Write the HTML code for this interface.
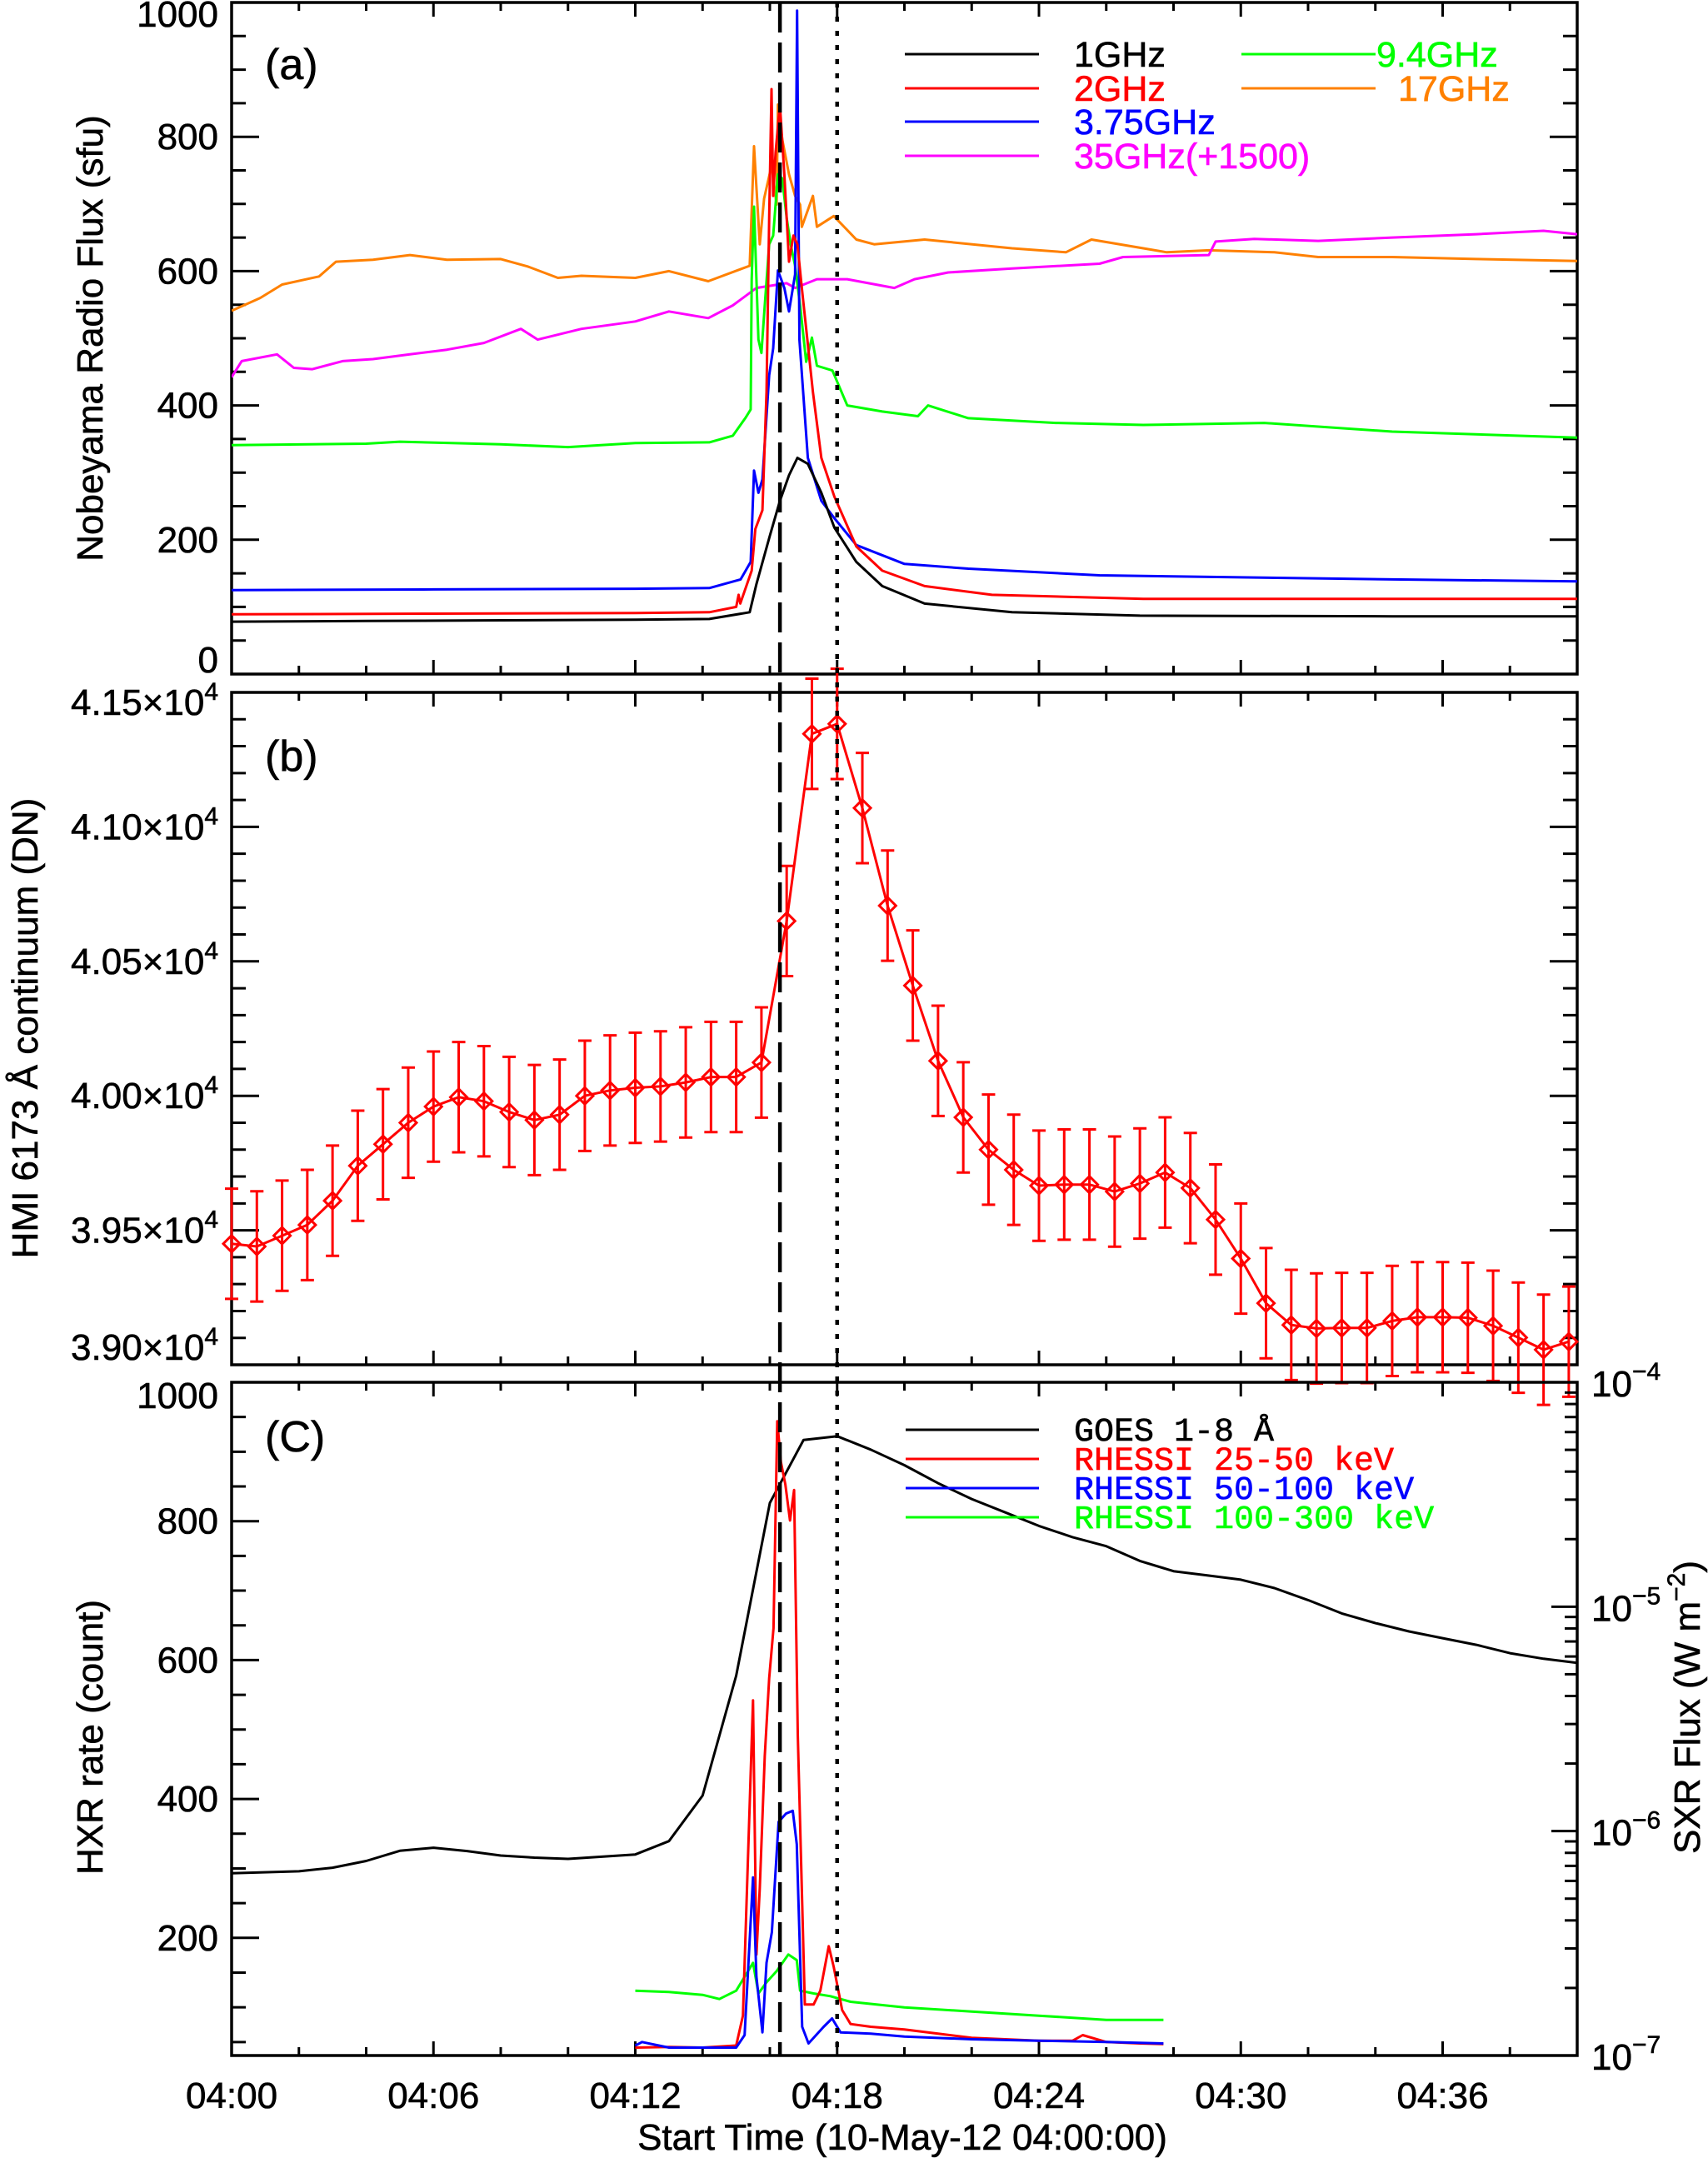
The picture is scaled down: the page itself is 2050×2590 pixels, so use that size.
<!DOCTYPE html>
<html><head><meta charset="utf-8"><style>
html,body{margin:0;padding:0;background:#fff;}
svg{display:block;font-family:"Liberation Sans",sans-serif;}
</style></head><body>
<svg id="chart" xmlns="http://www.w3.org/2000/svg" width="2050" height="2590" viewBox="0 0 2050 2590">
<rect width="2050" height="2590" fill="#fff"/>
</svg>
<script>
// ---- Panel (a): Nobeyama radio flux (sfu) ----
const black_t=[0,4,8,12,14.2,15.4,15.6,16.0,16.3,16.57,16.82,17.13,17.53,17.92,18.57,19.34,20.6,23.2,27,34.5,40];
const black_v=[78,79,80,81,82,92,134,206,258,296,322,313,270,218,167,131,105,92,87,86,86];
const red_t=[0,6,12,14.2,15.0,15.07,15.12,15.46,15.57,15.78,15.9,15.98,16.05,16.1,16.17,16.3,16.43,16.57,16.7,16.82,16.95,17.28,17.53,17.92,18.57,19.34,20.6,22.6,27.1,40];
const red_v=[89,90,91,92,100,118,105,154,216,244,420,679,871,712,777,848,744,614,653,640,575,420,322,264,190,154,131,118,112,112];
const blue_t=[0,6,12,14.2,15.13,15.43,15.53,15.66,15.78,15.98,16.1,16.24,16.43,16.57,16.75,16.81,16.88,17.13,17.53,17.92,18.57,20,21.9,25.8,34.5,40];
const blue_v=[125,126,127,128,141,167,303,270,290,445,485,601,575,540,595,988,498,322,258,232,192,164,157,147,141,138];
const green_t=[0,4,5,8,10,12,14.2,14.9,15.27,15.43,15.46,15.53,15.66,15.75,15.85,15.98,16.1,16.24,16.37,16.5,16.62,16.75,16.9,17.08,17.25,17.4,17.86,18.3,19.34,20.4,20.7,21.9,24.5,27.1,30.7,34.5,40];
const green_v=[341,343,346,342,338,344,345,355,381,394,588,696,498,478,549,640,653,744,738,679,640,608,549,465,501,459,452,400,391,384,400,381,374,371,374,361,352];
const orange_t=[0,0.85,1.5,2.6,3.1,4.2,5.3,6.4,8.0,8.8,9.7,10.4,12,13,14.17,15.4,15.53,15.7,15.83,16.05,16.2,16.24,16.37,16.57,16.75,16.9,16.95,17.28,17.4,17.9,18.57,19.1,20.6,23.2,24.8,25.56,27.1,27.8,29.05,31,32.3,34.5,37,40];
const orange_v=[541,560,580,592,614,617,624,617,618,607,590,593,590,600,585,608,786,640,708,757,699,848,796,744,712,699,666,712,666,682,647,640,647,634,628,647,634,628,631,628,621,621,618,615];
const magenta_t=[0,0.3,1.35,1.85,2.4,3.3,4.2,5.3,6.4,7.5,8.6,9.1,10.4,12,13,14.17,14.9,15.6,16.5,16.75,17.4,18.3,19.7,20.3,21.3,23.2,25.8,26.5,29.05,29.25,30.4,32.3,34.5,37,39,40];
const magenta_v=[442,466,476,456,454,466,469,476,483,493,514,498,514,525,540,530,549,575,582,575,588,588,575,588,598,604,611,621,624,644,648,645,650,655,660,655];
// ---- Panel (b): HMI continuum (x1e4 DN), 45 s cadence ----
const hmi_v=[3.945,3.944,3.948,3.952,3.961,3.974,3.982,3.990,3.996,3.9995,3.998,3.994,3.991,3.993,4.000,4.002,4.003,4.0035,4.005,4.007,4.007,4.0124,4.065,4.1346,4.1383,4.107,4.0707,4.041,4.013,3.992,3.980,3.9725,3.9666,3.967,3.967,3.9644,3.9674,3.9715,3.9657,3.954,3.9395,3.9229,3.9148,3.9135,3.9137,3.9137,3.9163,3.9177,3.9177,3.9175,3.9145,3.9101,3.9056,3.9086];
const hmi_err=[0.0205,0.0205,0.0205,0.0205,0.0205,0.0205,0.0205,0.0205,0.0205,0.0205,0.0205,0.0205,0.0205,0.0205,0.0205,0.0205,0.0205,0.0205,0.0205,0.0205,0.0205,0.0205,0.0205,0.0205,0.0205,0.0205,0.0205,0.0205,0.0205,0.0205,0.0205,0.0205,0.0205,0.0205,0.0205,0.0205,0.0205,0.0205,0.0205,0.0205,0.0205,0.0205,0.0205,0.0205,0.0205,0.0205,0.0205,0.0205,0.0205,0.0205,0.0205,0.0205,0.0205,0.0205];
const hmi_dt=0.75;
// ---- Panel (c): GOES + RHESSI ----
const goes_t=[0,2,3,4,5,6,7,8,9,10,11,12,13,14,15,16,17,18,19,20,21,22,23,24,25,26,27,28,29,30,31,32,33,34,35,36,37,38,39,40];
const goes_v=[6.49e-7,6.62e-7,6.87e-7,7.36e-7,8.17e-7,8.43e-7,8.15e-7,7.78e-7,7.62e-7,7.52e-7,7.69e-7,7.87e-7,9.02e-7,1.44e-6,4.93e-6,2.90e-5,5.53e-5,5.75e-5,5.01e-5,4.27e-5,3.55e-5,3.02e-5,2.63e-5,2.29e-5,2.04e-5,1.86e-5,1.60e-5,1.44e-5,1.38e-5,1.32e-5,1.21e-5,1.07e-5,9.33e-6,8.45e-6,7.76e-6,7.24e-6,6.76e-6,6.21e-6,5.86e-6,5.62e-6];
const r25_t=[12,13,14,15.0,15.2,15.5,15.6,15.7,15.85,15.98,16.11,16.22,16.33,16.46,16.6,16.72,16.83,17.04,17.3,17.5,17.75,17.9,18.15,18.4,19,20,21,22,23,24,25,25.3,26,27,27.7];
const r25_v=[42,43,42,45,88,542,176,271,462,574,646,944,885,853,801,845,494,104,104,124,188,158,96,76,72,68,62,56,54,52,52,60,50,48,47];
const r50_t=[12,12.2,13,14,15,15.25,15.5,15.6,15.78,15.9,16.06,16.26,16.48,16.68,16.8,16.96,17.15,17.6,17.85,18.1,19,20,22,24,26,27.7];
const r50_v=[45,50,42,42,42,60,287,144,64,164,208,367,379,383,335,72,48,72,84,64,62,58,54,52,50,48];
const r100_t=[12,13,14,14.5,15,15.5,15.66,15.9,16.2,16.55,16.8,16.9,17.3,17.8,18.4,20,22,24,26,27.7];
const r100_v=[124,122,118,112,124,164,120,136,152,176,168,124,120,116,108,100,94,88,82,82];
const xTickLabels=["04:00","04:06","04:12","04:18","04:24","04:30","04:36"];
const aTicks=[0,200,400,600,800,1000];
const bTicks=["3.90","3.95","4.00","4.05","4.10","4.15"];
const cTicks=[200,400,600,800,1000];
const cRightExp=[-7,-6,-5,-4];
const dashedT=16.3, dottedT=18.0;

const NS="http://www.w3.org/2000/svg";
const svg=document.getElementById('chart');
const X0=278,X1=1893;
const A={t:3,b:809,min:0,max:1000};
const B={t:831,b:1638,min:3.90,max:4.15};
const C={t:1659,b:2467,min:30.6,max:1000};
function xS(t){return X0+(t/40)*(X1-X0);}
function yS(P,v){return P.b-(v-P.min)/(P.max-P.min)*(P.b-P.t);}
function yLog(f){return C.b-(Math.log10(f)+7)/3*(C.b-C.t);}
function el(tag,attrs,parent){const e=document.createElementNS(NS,tag);for(const k in attrs)e.setAttribute(k,attrs[k]);(parent||svg).appendChild(e);return e;}

const defs=el('defs',{});
[['clipA',A],['clipB',B],['clipC',C]].forEach(([id,P])=>{const cp=el('clipPath',{id:id},defs);el('rect',{x:X0,y:P.t,width:X1-X0,height:P.b-P.t},cp);});

function frame(P,name){
  const r=el('rect',{x:X0,y:P.t,width:X1-X0,height:P.b-P.t,fill:'none',stroke:'#000','stroke-width':3.5});
  
  
  for(let m=2;m<40;m+=2){
    const x=xS(m),L=(m%6===0)?17:10;
    const tk=el('path',{d:`M${x},${P.b}V${P.b-L}M${x},${P.t}V${P.t+L}`,stroke:'#000','stroke-width':3});
    
    
  }
}
function lineSeries(ts,vs,yf,color,clip,name,w){
  let d='';ts.forEach((t,i)=>{d+=(i?'L':'M')+xS(t).toFixed(1)+','+yf(vs[i]).toFixed(1);});
  const p=el('path',{d:d,fill:'none',stroke:color,'stroke-width':w||3,'stroke-linejoin':'round','clip-path':`url(#${clip})`});
  
  
}
function text(x,y,s,attrs,name){
  const t=el('text',Object.assign({x:x,y:y,'font-size':44,fill:'#000',stroke:(attrs&&attrs.fill)||'#000','stroke-width':0.6},attrs||{}));
  t.textContent=s;
  
  
  return t;
}

// ===== Panel A =====
frame(A,'panel-a-frame');
for(let v=50;v<1000;v+=50){
  const y=yS(A,v),L=(v%200===0)?33:17;
  const tk=el('path',{d:`M${X0},${y}H${X0+L}M${X1},${y}H${X1-L}`,stroke:'#000','stroke-width':3});
  
  
}
aTicks.forEach(v=>{let y=yS(A,v);y=Math.max(y+15,32);if(v===0)y=yS(A,v)-2;text(262,y,String(v),{'text-anchor':'end','font-size':44},'y-tick-label-a');});
lineSeries(orange_t,orange_v,v=>yS(A,v),'#ff8000','clipA','series-17ghz');
lineSeries(magenta_t,magenta_v,v=>yS(A,v),'#ff00ff','clipA','series-35ghz');
lineSeries(green_t,green_v,v=>yS(A,v),'#00ff00','clipA','series-9-4ghz');
lineSeries(blue_t,blue_v,v=>yS(A,v),'#0000ff','clipA','series-3-75ghz');
lineSeries(red_t,red_v,v=>yS(A,v),'#ff0000','clipA','series-2ghz');
lineSeries(black_t,black_v,v=>yS(A,v),'#000000','clipA','series-1ghz');
text(318,95,'(a)',{'font-size':52},'panel-a-label');
const legA=[['1GHz','#000000',1086,65,1289],['2GHz','#ff0000',1086,106,1289],['3.75GHz','#0000ff',1086,146,1289],['35GHz(+1500)','#ff00ff',1086,187,1289],['9.4GHz','#00ff00',1490,65,1652],['17GHz','#ff8000',1490,106,1678]];
legA.forEach(([s,c,lx,y,tx])=>{
  const l=el('line',{x1:lx,x2:lx+161,y1:y,y2:y,stroke:c,'stroke-width':3});
  
  
  text(tx,y+15,s,{fill:c,'font-size':43},'legend-entry-a');
});
text(0,0,'Nobeyama Radio Flux (sfu)',{transform:'translate(123,406) rotate(-90)','text-anchor':'middle','font-size':44},'y-axis-title-a');

// ===== Panel B =====
frame(B,'panel-b-frame');
for(let i=1;i<25;i++){
  const v=3.90+i*0.01,y=yS(B,v),L=(i%5===0)?33:17;
  const tk=el('path',{d:`M${X0},${y}H${X0+L}M${X1},${y}H${X1-L}`,stroke:'#000','stroke-width':3});
  
  
}
bTicks.forEach(s=>{
  let y=yS(B,parseFloat(s))+15;if(y>1632)y=1632;if(s==='4.15')y=858;
  const t=text(262,y,'',{'text-anchor':'end','font-size':44},'y-tick-label-b');
  const m=el('tspan',{},t);m.textContent=s+'\u00d710';
  const e=el('tspan',{dy:-18,'font-size':30},t);e.textContent='4';
});
text(0,0,'HMI 6173 \u00c5 continuum (DN)',{transform:'translate(45,1234) rotate(-90)','text-anchor':'middle','font-size':44},'y-axis-title-b');
text(318,925,'(b)',{'font-size':52},'panel-b-label');
{
  let d='';hmi_v.forEach((v,i)=>{d+=(i?'L':'M')+xS(i*hmi_dt).toFixed(1)+','+yS(B,v).toFixed(1);});
  const p=el('path',{d:d,fill:'none',stroke:'#ff0000','stroke-width':3,'clip-path':'url(#clipB)'});
  
  
  hmi_v.forEach((v,i)=>{
    const x=xS(i*hmi_dt),y=yS(B,v),y1=yS(B,v+hmi_err[i]),y2=yS(B,v-hmi_err[i]);
    const eb=el('path',{d:`M${x},${y1}V${y2}M${x-8},${y1}H${x+8}M${x-8},${y2}H${x+8}`,stroke:'#ff0000','stroke-width':3,fill:'none'});
    
    
    const dm=el('path',{d:`M${x-10},${y}L${x},${y-10}L${x+10},${y}L${x},${y+10}Z`,stroke:'#ff0000','stroke-width':3,fill:'none'});
    
    
  });
}

// ===== Panel C =====
frame(C,'panel-c-frame');
for(let v=50;v<1000;v+=50){
  const y=yS(C,v),L=(v%200===0)?33:17;
  const tk=el('path',{d:`M${X0},${y}H${X0+L}`,stroke:'#000','stroke-width':3});
  
  
}
cTicks.forEach(v=>{let y=yS(C,v)+15;if(v===1000)y=1690;text(262,y,String(v),{'text-anchor':'end','font-size':44},'y-tick-label-c');});
for(let e=-7;e<-4;e++){for(let m=1;m<10;m++){
  const f=m*Math.pow(10,e);const y=yLog(f);const L=(m===1)?31:15;
  if(m===1&&e===-7)continue;
  const tk=el('path',{d:`M${X1},${y}H${X1-L}`,stroke:'#000','stroke-width':3});
  
  
}}
cRightExp.forEach(e=>{
  const y=yLog(Math.pow(10,e));
  const t=text(1910,y+17,'',{'font-size':44},'y-tick-label-c-right');
  const a=el('tspan',{},t);a.textContent='10';
  const b=el('tspan',{dy:-20,'font-size':30},t);b.textContent='\u2212'+(-e);
});
{
  const t=text(0,0,'',{transform:'translate(2040,2049) rotate(-90)','text-anchor':'middle','font-size':44},'y-axis-title-c-right');
  const a=el('tspan',{},t);a.textContent='SXR Flux (W m';
  const b=el('tspan',{dy:-18,'font-size':30},t);b.textContent='\u22122';
  const c=el('tspan',{dy:18},t);c.textContent=')';
}
text(0,0,'HXR rate (count)',{transform:'translate(123,2085) rotate(-90)','text-anchor':'middle','font-size':44},'y-axis-title-c');
text(318,1742,'(C)',{'font-size':52},'panel-c-label');
lineSeries(goes_t,goes_v,yLog,'#000','clipC','goes-1-8a');
lineSeries(r100_t,r100_v,v=>yS(C,v),'#00ff00','clipC','rhessi-100-300kev');
lineSeries(r25_t,r25_v,v=>yS(C,v),'#ff0000','clipC','rhessi-25-50kev');
lineSeries(r50_t,r50_v,v=>yS(C,v),'#0000ff','clipC','rhessi-50-100kev');
const legC=[['GOES 1-8 \u00c5','#000000',1716],['RHESSI 25-50 keV','#ff0000',1751],['RHESSI 50-100 keV','#0000ff',1786],['RHESSI 100-300 keV','#00ff00',1821]];
legC.forEach(([s,c,y])=>{
  const l=el('line',{x1:1087,x2:1247,y1:y,y2:y,stroke:c,'stroke-width':3});
  
  
  text(1289,y+13,s,{fill:c,'font-size':40,'font-family':'Liberation Mono, monospace'},'legend-entry-c');
});

xTickLabels.forEach((s,i)=>text(xS(i*6),2530,s,{'text-anchor':'middle','font-size':44},'x-tick-label'));
text(1083,2580,'Start Time (10-May-12 04:00:00)',{'text-anchor':'middle','font-size':44},'x-axis-title');

const vd=el('line',{x1:xS(dashedT),x2:xS(dashedT),y1:A.t,y2:C.b,stroke:'#000','stroke-width':4.5,'stroke-dasharray':'36 12'});


const vt=el('line',{x1:xS(dottedT),x2:xS(dottedT),y1:A.t,y2:C.b,stroke:'#000','stroke-width':4.5,'stroke-dasharray':'6 11'});


</script>
</body></html>
